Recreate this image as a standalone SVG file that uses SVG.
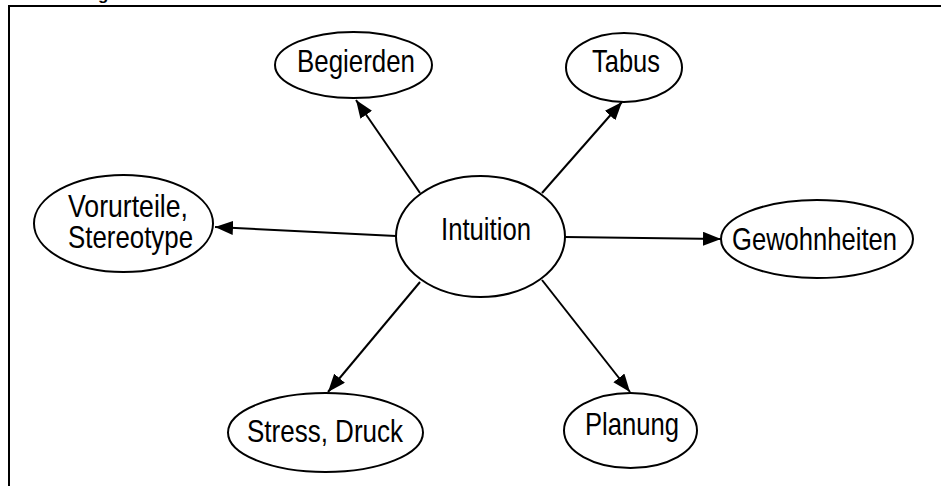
<svg xmlns="http://www.w3.org/2000/svg" width="941" height="486" viewBox="0 0 941 486">
<style>
.n ellipse{fill:#fff;stroke:#000;stroke-width:2}
.n text{font-family:"Liberation Sans",Arial,sans-serif;font-size:32px;fill:#000;text-anchor:start}
.c line{stroke:#000;stroke-width:2;marker-end:url(#ah)}
</style>
<defs>
<marker id="ah" markerUnits="userSpaceOnUse" markerWidth="20" markerHeight="16" refX="18" refY="7" orient="auto">
<path d="M0,0 L18,7 L0,14 z" fill="#000"/>
</marker>
</defs>
<rect width="941" height="486" fill="#fff"/>
<text x="98" y="0" style="font-family:'Liberation Sans',Arial,sans-serif;font-weight:bold;font-size:17px">g</text>
<path d="M9,486 V6 H941" fill="none" stroke="#000" stroke-width="2"/>
<g id="connectors" class="c">
<line x1="420" y1="193" x2="356" y2="100"/>
<line x1="542" y1="193" x2="622" y2="102"/>
<line x1="396" y1="236" x2="215" y2="227"/>
<line x1="565" y1="237" x2="721" y2="239"/>
<line x1="420" y1="282" x2="328" y2="392"/>
<line x1="542" y1="280" x2="630" y2="392"/>
</g>
<g id="intuition" class="n">
<ellipse cx="480.5" cy="236.5" rx="84.5" ry="60.5"/>
<text x="441" y="240" textLength="90" lengthAdjust="spacingAndGlyphs">Intuition</text>
</g>
<g id="begierden" class="n">
<ellipse cx="353.5" cy="65" rx="78.5" ry="33"/>
<text x="297" y="72" textLength="118" lengthAdjust="spacingAndGlyphs">Begierden</text>
</g>
<g id="tabus" class="n">
<ellipse cx="624" cy="67.5" rx="58" ry="34.5"/>
<text x="592" y="72" textLength="68" lengthAdjust="spacingAndGlyphs">Tabus</text>
</g>
<g id="vorurteile" class="n">
<ellipse cx="123.5" cy="223.5" rx="89.5" ry="48.5"/>
<text x="68" y="217" textLength="120" lengthAdjust="spacingAndGlyphs">Vorurteile,</text>
<text x="68" y="248" textLength="125" lengthAdjust="spacingAndGlyphs">Stereotype</text>
</g>
<g id="gewohnheiten" class="n">
<ellipse cx="817" cy="239" rx="96" ry="39"/>
<text x="732" y="250" textLength="165" lengthAdjust="spacingAndGlyphs">Gewohnheiten</text>
</g>
<g id="stress" class="n">
<ellipse cx="325.5" cy="432.5" rx="97.5" ry="39.5"/>
<text x="247" y="442" textLength="156" lengthAdjust="spacingAndGlyphs">Stress, Druck</text>
</g>
<g id="planung" class="n">
<ellipse cx="630.5" cy="430.5" rx="66.5" ry="37.5"/>
<text x="585" y="435" textLength="94" lengthAdjust="spacingAndGlyphs">Planung</text>
</g>
</svg>
